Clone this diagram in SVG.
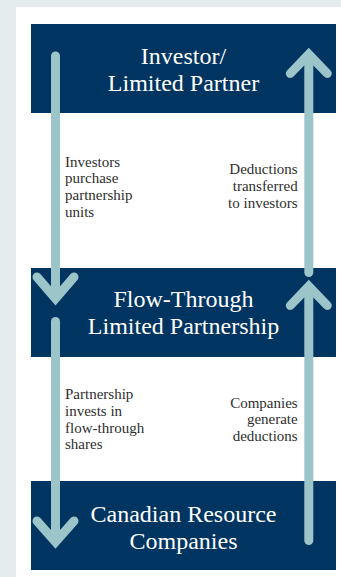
<svg xmlns="http://www.w3.org/2000/svg" width="341" height="577" viewBox="0 0 341 577">
  <style>
    .box { fill: #003461; }
    .title { font-size: 24px; fill: #ffffff; text-anchor: middle; }
    .label { font-size: 15px; fill: #2e2e2e; }
    .right { text-anchor: end; }
    .flow { fill: none; stroke: #9cc5c9; stroke-width: 9; stroke-linecap: round; }
    .head { fill: none; stroke: #9cc5c9; stroke-width: 9; stroke-linecap: round; stroke-linejoin: miter; stroke-miterlimit: 4; }
  </style>

  <!-- page background and white panel -->
  <rect x="0" y="0" width="341" height="577" fill="#e4ecee"/>
  <rect x="16" y="7" width="325" height="570" fill="#ffffff"/>

  <g font-family="Liberation Serif, Times New Roman, serif">
    <g id="investor">
      <rect class="box" x="31" y="24" width="305" height="89"/>
      <text class="title" x="183.5" y="64">Investor/</text>
      <text class="title" x="183.5" y="91">Limited Partner</text>
    </g>

    <g id="partnership">
      <rect class="box" x="31" y="268" width="305" height="89"/>
      <text class="title" x="183.5" y="307">Flow-Through</text>
      <text class="title" x="183.5" y="334">Limited Partnership</text>
    </g>

    <g id="companies">
      <rect class="box" x="31" y="481" width="305" height="89"/>
      <text class="title" x="183.5" y="522">Canadian Resource</text>
      <text class="title" x="183.5" y="549">Companies</text>
    </g>

    <g id="connectors">
      <!-- investors buy units: investor to partnership -->
      <line class="flow" x1="55.5" y1="56" x2="55.5" y2="296"/>
      <polyline class="head" points="37,277 55.5,298.5 74,277"/>
      <!-- partnership buys shares: partnership to companies -->
      <line class="flow" x1="55.5" y1="321.5" x2="55.5" y2="539"/>
      <polyline class="head" points="37,521 55.5,542 74,521"/>
      <!-- deductions passed up: partnership to investor -->
      <line class="flow" x1="308.8" y1="272.5" x2="308.8" y2="57"/>
      <polyline class="head" points="290.3,73.5 308.8,54.3 327.3,73.5"/>
      <!-- deductions generated: companies to partnership -->
      <line class="flow" x1="308.8" y1="540.5" x2="308.8" y2="289"/>
      <polyline class="head" points="290.3,305.5 308.8,286.3 327.3,305.5"/>
    </g>

    <g id="flow-labels">
      <text class="label" x="65" y="166.5">Investors</text>
      <text class="label" x="65" y="183.3">purchase</text>
      <text class="label" x="65" y="200">partnership</text>
      <text class="label" x="65" y="216.7">units</text>

      <text class="label right" x="297.7" y="174.3">Deductions</text>
      <text class="label right" x="297.7" y="191">transferred</text>
      <text class="label right" x="297.7" y="207.5">to investors</text>

      <text class="label" x="65" y="399.3">Partnership</text>
      <text class="label" x="65" y="416">invests in</text>
      <text class="label" x="65" y="432.7">flow-through</text>
      <text class="label" x="65" y="449.3">shares</text>

      <text class="label right" x="297.7" y="407.7">Companies</text>
      <text class="label right" x="297.7" y="424.3">generate</text>
      <text class="label right" x="297.7" y="441">deductions</text>
    </g>
  </g>
</svg>
